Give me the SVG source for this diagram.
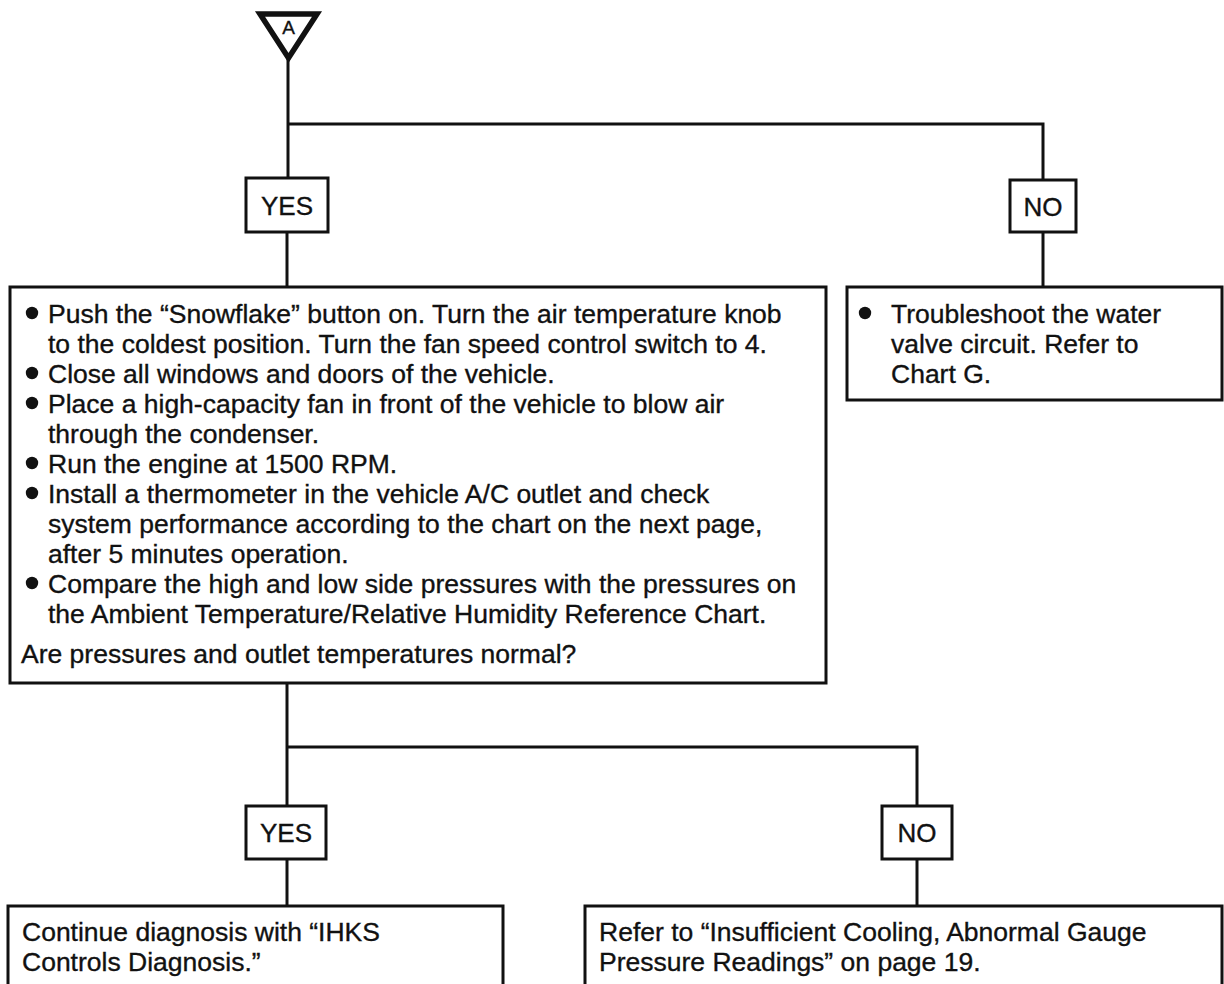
<svg xmlns="http://www.w3.org/2000/svg" width="1224" height="984" viewBox="0 0 1224 984">
<style>
.box{fill:#fff;stroke:#111;stroke-width:3}
.wire{fill:none;stroke:#111;stroke-width:3}
.t{font-family:"Liberation Sans",Arial,Helvetica,sans-serif;font-size:26.5px;fill:#111;stroke:#111;stroke-width:0.35}
.lbl{font-family:"Liberation Sans",Arial,Helvetica,sans-serif;font-size:26px;fill:#111;stroke:#111;stroke-width:0.35;text-anchor:middle}
.dot{fill:#111}
</style>
<rect width="1224" height="984" fill="#fff"/>
<g id="connectors">
<path class="wire" d="M288 58 V178"/>
<path class="wire" d="M288 124 H1043 V180"/>
<path class="wire" d="M287 232 V287"/>
<path class="wire" d="M1043 232 V287"/>
<path class="wire" d="M287 683 V806"/>
<path class="wire" d="M287 747 H917 V806"/>
<path class="wire" d="M287 859 V906"/>
<path class="wire" d="M917 859 V906"/>
</g>
<g id="start">
<polygon points="260,14 317,14 288.5,58" fill="#fff" stroke="#111" stroke-width="5.5" stroke-linejoin="miter"/>
<text x="288.5" y="34" class="lbl" style="font-size:19px">A</text>
</g>
<g id="yes1">
<rect class="box" x="246" y="178" width="82" height="54"/>
<text class="lbl" x="287" y="214.5">YES</text>
</g>
<g id="no1">
<rect class="box" x="1010" y="180" width="66" height="52"/>
<text class="lbl" x="1043" y="215.5">NO</text>
</g>
<g id="check">
<rect class="box" x="10" y="287" width="816" height="396"/>
<circle class="dot" cx="32" cy="313" r="6.2"/>
<circle class="dot" cx="32" cy="373" r="6.2"/>
<circle class="dot" cx="32" cy="403" r="6.2"/>
<circle class="dot" cx="32" cy="463" r="6.2"/>
<circle class="dot" cx="32" cy="493" r="6.2"/>
<circle class="dot" cx="32" cy="583" r="6.2"/>
<text class="t" x="48" y="322.5">Push the “Snowflake” button on. Turn the air temperature knob</text>
<text class="t" x="48" y="352.5">to the coldest position. Turn the fan speed control switch to 4.</text>
<text class="t" x="48" y="382.5">Close all windows and doors of the vehicle.</text>
<text class="t" x="48" y="412.5">Place a high-capacity fan in front of the vehicle to blow air</text>
<text class="t" x="48" y="442.5">through the condenser.</text>
<text class="t" x="48" y="472.5">Run the engine at 1500 RPM.</text>
<text class="t" x="48" y="502.5">Install a thermometer in the vehicle A/C outlet and check</text>
<text class="t" x="48" y="532.5">system performance according to the chart on the next page,</text>
<text class="t" x="48" y="562.5">after 5 minutes operation.</text>
<text class="t" x="48" y="592.5">Compare the high and low side pressures with the pressures on</text>
<text class="t" x="48" y="622.5">the Ambient Temperature/Relative Humidity Reference Chart.</text>
<text class="t" x="21" y="662.5">Are pressures and outlet temperatures normal?</text>
</g>
<g id="water">
<rect class="box" x="847" y="287" width="375" height="113"/>
<circle class="dot" cx="865" cy="313" r="6.2"/>
<text class="t" x="891" y="322.5">Troubleshoot the water</text>
<text class="t" x="891" y="352.5">valve circuit. Refer to</text>
<text class="t" x="891" y="382.5">Chart G.</text>
</g>
<g id="yes2">
<rect class="box" x="246" y="806" width="80" height="53"/>
<text class="lbl" x="286" y="842">YES</text>
</g>
<g id="no2">
<rect class="box" x="882" y="806" width="70" height="53"/>
<text class="lbl" x="917" y="842">NO</text>
</g>
<g id="ihks">
<rect class="box" x="8" y="906" width="495" height="90"/>
<text class="t" x="22" y="940.5">Continue diagnosis with “IHKS</text>
<text class="t" x="22" y="970.5">Controls Diagnosis.”</text>
</g>
<g id="insufficient">
<rect class="box" x="585" y="906" width="637" height="90"/>
<text class="t" x="599" y="940.5">Refer to “Insufficient Cooling, Abnormal Gauge</text>
<text class="t" x="599" y="970.5">Pressure Readings” on page 19.</text>
</g>
</svg>
